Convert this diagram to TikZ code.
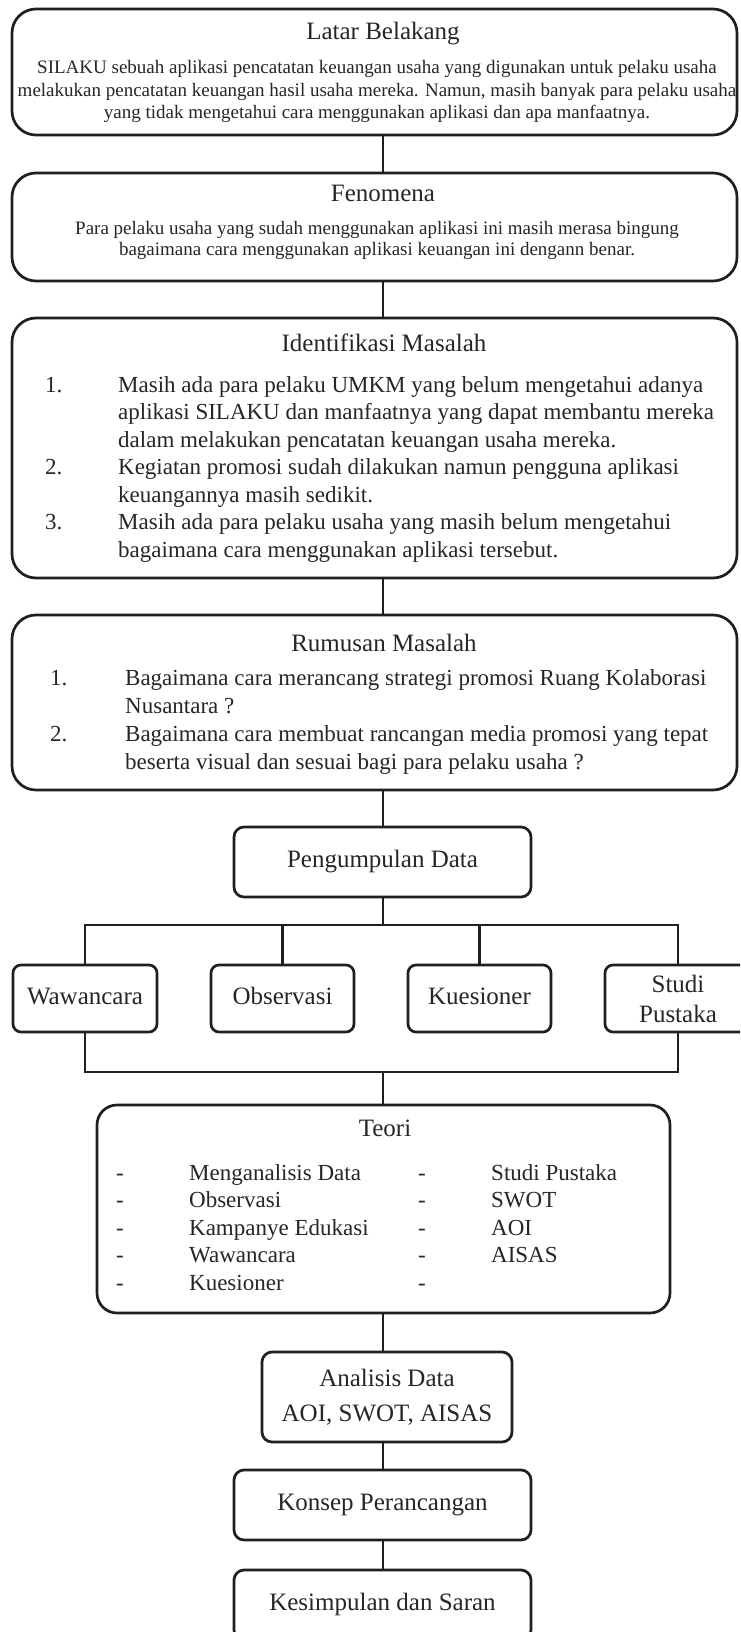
\documentclass[tikz,border=0pt]{standalone}
\usepackage{fontspec}
\setmainfont{Liberation Serif}
\usepackage{array}
\begin{document}
\begin{tikzpicture}[x=1pt,y=-1pt,
  bigbox/.style={draw=black!88, line width=2.7pt, rounded corners=24pt, inner sep=0pt},
  teoribox/.style={draw=black!88, line width=2.7pt, rounded corners=20pt, inner sep=0pt},
  smallbox/.style={draw=black!88, line width=2.7pt, rounded corners=10pt, inner sep=0pt, align=center, font=\fontsize{25}{30}\selectfont, text=black!85},
  oneline/.style={text height=17pt, text depth=5.5pt},
  conn/.style={draw=black!88, line width=2.6pt},
  ttl/.style={font=\fontsize{25}{30}\selectfont, anchor=base, inner sep=0pt, text=black!85},
  lst/.style={anchor=base west, inner sep=0pt, text=black!85},
  bodytxt/.style={anchor=base, inner sep=0pt, text=black!85},
]
\useasboundingbox (0,0) rectangle (740,1632);
\fill[white] (0,0) rectangle (740,1632);
\clip (0,0) rectangle (740,1632);
\coordinate (spine) at (383,0);

% Latar Belakang
\node[bigbox, minimum width=725pt, minimum height=126pt] (latar) at (374.5,72) {};
\node[ttl] (latarT) at (383,40) {Latar Belakang};
\node[bodytxt, font=\fontsize{19}{22.5}\selectfont] (latarB) at (377,74) {\begin{tabular}[t]{@{}c@{}}SILAKU sebuah aplikasi pencatatan keuangan usaha yang digunakan untuk pelaku usaha\\ melakukan pencatatan keuangan hasil usaha mereka. Namun, masih banyak para pelaku usaha\\ yang tidak mengetahui cara menggunakan aplikasi dan apa manfaatnya.\end{tabular}};

% Fenomena
\node[bigbox, minimum width=725pt, minimum height=108pt] (fen) at (374.5,227) {};
\node[ttl] (fenT) at (383,201) {Fenomena};
\node[bodytxt, font=\fontsize{19}{21}\selectfont] (fenB) at (377,234) {\begin{tabular}[t]{@{}c@{}}Para pelaku usaha yang sudah menggunakan aplikasi ini masih merasa bingung\\ bagaimana cara menggunakan aplikasi keuangan ini dengann benar.\end{tabular}};

% Identifikasi Masalah
\node[bigbox, minimum width=725pt, minimum height=260pt] (ident) at (374.5,448) {};
\node[ttl] (identT) at (384,351) {Identifikasi Masalah};
\node[lst, font=\fontsize{23}{27.5}\selectfont] (identL) at (45,392) {\begin{tabular}[t]{@{}p{73pt}@{}l@{}}
1. & Masih ada para pelaku UMKM yang belum mengetahui adanya\\
 & aplikasi SILAKU dan manfaatnya yang dapat membantu mereka\\
 & dalam melakukan pencatatan keuangan usaha mereka.\\
2. & Kegiatan promosi sudah dilakukan namun pengguna aplikasi\\
 & keuangannya masih sedikit.\\
3. & Masih ada para pelaku usaha yang masih belum mengetahui\\
 & bagaimana cara menggunakan aplikasi tersebut.
\end{tabular}};

% Rumusan Masalah
\node[bigbox, minimum width=725pt, minimum height=175pt] (rumus) at (374.5,702.5) {};
\node[ttl] (rumusT) at (384,651) {Rumusan Masalah};
\node[lst, font=\fontsize{23}{28}\selectfont] (rumusL) at (50,685) {\begin{tabular}[t]{@{}p{75pt}@{}l@{}}
1. & Bagaimana cara merancang strategi promosi Ruang Kolaborasi\\
 & Nusantara ?\\
2. & Bagaimana cara membuat rancangan media promosi yang tepat\\
 & beserta visual dan sesuai bagi para pelaku usaha ?
\end{tabular}};

% Pengumpulan Data
\node[smallbox, oneline, minimum width=297pt, minimum height=70pt] (peng) at (382.5,862) {Pengumpulan Data};

% four methods
\node[smallbox, oneline, rounded corners=8pt, minimum width=144pt, minimum height=67pt] (waw) at (85,998.5) {Wawancara};
\node[smallbox, oneline, rounded corners=8pt, minimum width=143pt, minimum height=67pt] (obs) at (282.5,998.5) {Observasi};
\node[smallbox, oneline, rounded corners=8pt, minimum width=143pt, minimum height=67pt] (kue) at (479.5,998.5) {Kuesioner};
\node[smallbox, rounded corners=8pt, minimum width=146pt, minimum height=67pt] (studi) at (678,998.5) {Studi\\Pustaka};

% Teori
\node[teoribox, minimum width=573pt, minimum height=208pt] (teori) at (383.5,1209) {};
\node[ttl] (teoriT) at (385,1136) {Teori};
\node[lst, font=\fontsize{23}{27.5}\selectfont] (teoriL) at (116,1180) {\begin{tabular}[t]{@{}p{73pt}@{}p{229pt}@{}p{73pt}@{}l@{}}
- & Menganalisis Data & - & Studi Pustaka\\
- & Observasi & - & SWOT\\
- & Kampanye Edukasi & - & AOI\\
- & Wawancara & - & AISAS\\
- & Kuesioner & - & 
\end{tabular}};

% Analisis, Konsep, Kesimpulan
\node[smallbox, font=\fontsize{25}{35}\selectfont, minimum width=250pt, minimum height=90pt] (anal) at (387,1397) {Analisis Data\\AOI, SWOT, AISAS};
\node[smallbox, oneline, minimum width=297pt, minimum height=70pt] (konsep) at (382.5,1505) {Konsep Perancangan};
\node[smallbox, oneline, minimum width=297pt, minimum height=70pt] (kes) at (382.5,1605) {Kesimpulan dan Saran};

% connectors
\coordinate (busTop) at (383,925);
\coordinate (busBot) at (383,1072);
\draw[conn] (latar.south -| spine) -- (fen.north -| spine);
\draw[conn] (fen.south -| spine) -- (ident.north -| spine);
\draw[conn] (ident.south -| spine) -- (rumus.north -| spine);
\draw[conn] (rumus.south -| spine) -- (peng.north -| spine);
\draw[conn] (peng.south -| spine) -- (busTop);
\draw[conn] (waw.north) |- (busTop) -| (studi.north);
\draw[conn] (obs.north) -- (obs.north |- busTop);
\draw[conn] (kue.north) -- (kue.north |- busTop);
\draw[conn] (waw.south) |- (busBot) -| (studi.south);
\draw[conn] (busBot) -- (teori.north -| spine);
\draw[conn] (teori.south -| spine) -- (anal.north -| spine);
\draw[conn] (anal.south -| spine) -- (konsep.north -| spine);
\draw[conn] (konsep.south -| spine) -- (kes.north -| spine);
\end{tikzpicture}
\end{document}
